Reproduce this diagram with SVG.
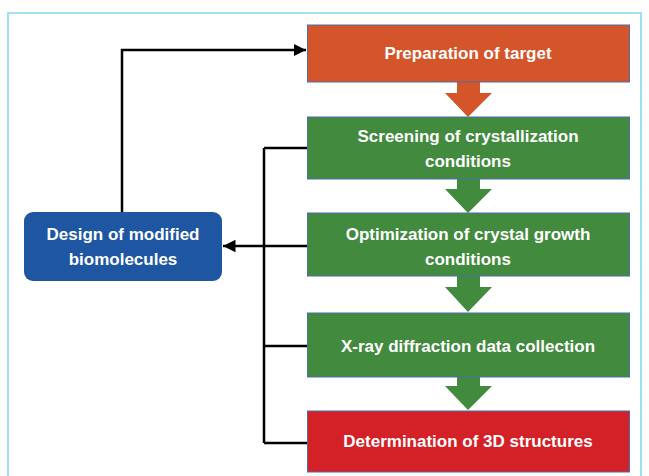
<svg xmlns="http://www.w3.org/2000/svg" width="649" height="476" viewBox="0 0 649 476">
  <style>
    .box { stroke: #4a6fa5; stroke-width: 1; }
    .lbl { font-family: "Liberation Sans", Arial, sans-serif; font-weight: bold; font-size: 17px; fill: #ffffff; text-anchor: middle; }
    .wire { fill: none; stroke: #000000; stroke-width: 2.5; }
  </style>
  <defs>
    <marker id="tip" viewBox="0 0 10 10" refX="10" refY="5" markerWidth="5" markerHeight="5.2" markerUnits="strokeWidth" orient="auto">
      <path d="M0,0 L10,5 L0,10 Z" fill="#000000"/>
    </marker>
  </defs>

  <rect width="649" height="476" fill="#ffffff"/>
  <!-- frame -->
  <path d="M8,476 L8,13 L641,13 L641,476" fill="none" stroke="#86d8f2" stroke-width="1.6"/>

  <!-- block arrows between steps -->
  <g id="flow-arrows">
    <path d="M457,82 L480,82 L480,93 L492,93 L468,117 L445,93 L457,93 Z" fill="#d5552a"/>
    <path d="M457,179 L480,179 L480,189 L492,189 L468,213 L445,189 L457,189 Z" fill="#428a3e"/>
    <path d="M457,276 L480,276 L480,287 L492,287 L468,312 L445,287 L457,287 Z" fill="#428a3e"/>
    <path d="M457,377 L480,377 L480,386 L492,386 L468,410 L445,386 L457,386 Z" fill="#428a3e"/>
  </g>

  <g id="connectors">
    <path class="wire" d="M122,212 L122,50 L306,50" marker-end="url(#tip)"/>
    <path class="wire" d="M264,148 L264,443"/>
    <path class="wire" d="M264,148 L308,148"/>
    <path class="wire" d="M264,346 L308,346"/>
    <path class="wire" d="M264,443 L308,443"/>
    <path class="wire" d="M308,246 L223,246" marker-end="url(#tip)"/>
  </g>

  <g id="preparation">
    <rect class="box" x="307.5" y="25" width="322" height="57" fill="#d5552a"/>
    <text class="lbl" x="468" y="59">Preparation of target</text>
  </g>

  <g id="screening">
    <rect class="box" x="307.5" y="117" width="322" height="62" fill="#428a3e"/>
    <text class="lbl" x="468" y="142">Screening of crystallization</text>
    <text class="lbl" x="468" y="167">conditions</text>
  </g>

  <g id="optimization">
    <rect class="box" x="307.5" y="213" width="322" height="63" fill="#428a3e"/>
    <text class="lbl" x="468" y="240">Optimization of crystal growth</text>
    <text class="lbl" x="468" y="265">conditions</text>
  </g>

  <g id="xray">
    <rect class="box" x="307.5" y="313" width="322" height="64" fill="#428a3e"/>
    <text class="lbl" x="468" y="352">X-ray diffraction data collection</text>
  </g>

  <g id="determination">
    <rect class="box" x="307.5" y="411" width="322" height="61" fill="#d42027"/>
    <text class="lbl" x="468" y="447">Determination of 3D structures</text>
  </g>

  <g id="design">
    <rect x="24" y="212" width="198" height="69" rx="9" ry="9" fill="#1f56a2"/>
    <text class="lbl" x="123" y="240">Design of modified</text>
    <text class="lbl" x="123" y="265">biomolecules</text>
  </g>
</svg>
